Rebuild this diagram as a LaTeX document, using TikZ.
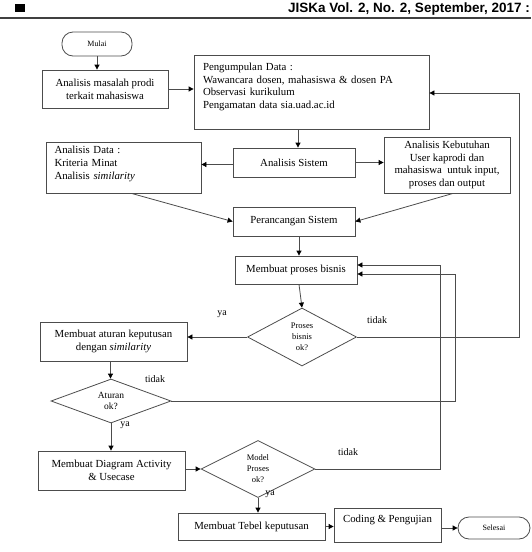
\documentclass[tikz,border=0pt]{standalone}
\usepackage{fontspec}
\setmainfont{Liberation Serif}
\newfontfamily\hdrfont{Liberation Sans}
\usetikzlibrary{arrows.meta,shapes.geometric,calc}
\begin{document}
\begin{tikzpicture}[x=1pt,y=-1pt,
  lc/.style={draw=black!70},
  box/.style={lc,line width=0.8pt,rectangle,inner sep=0pt,align=center,font=\fontsize{10.8}{12.7}\selectfont},
  term/.style={box,rounded corners=11pt,font=\fontsize{8}{10}\selectfont},
  dia/.style={lc,line width=0.8pt,diamond,inner sep=0pt,align=center,font=\fontsize{8.5}{11}\selectfont},
  arr/.style={lc,line width=0.8pt,-{Triangle[length=5pt,width=5pt,color=black]}},
  lbl/.style={font=\fontsize{10}{12}\selectfont,inner sep=0pt}]
\useasboundingbox (0,0) rectangle (531,552);
% header
\fill[black] (15,4) rectangle (25,12);
\node[anchor=east,inner sep=0pt,font=\hdrfont\bfseries\fontsize{13.5}{15}\selectfont] (hdr) at (530,9) {JISKa Vol. 2, No. 2, September, 2017 :};
\draw[black!75,line width=1.3pt] (0,18) -- (531,18);
% nodes
\node[term,minimum width=70,minimum height=24] (mulai) at (97,44) {Mulai};
\node[box,minimum width=126,minimum height=38] (masalah) at (105,89) {Analisis masalah prodi\\terkait mahasiswa};
\node[box,minimum width=235,minimum height=74,text width=217,align=left] (kumpul) at (311.5,92) {Pengumpulan Data :\\Wawancara dosen, mahasiswa \& dosen PA\\Observasi kurikulum\\Pengamatan data sia.uad.ac.id\\\mbox{}};
\node[box,minimum width=122,minimum height=29] (sistem) at (294,162.5) {Analisis Sistem};
\node[box,minimum width=155,minimum height=51,text width=138,align=left] (data) at (123.5,167.5) {Analisis Data :\\Kriteria Minat\\Analisis \textit{similarity}\\[-3pt]\mbox{}};
\node[box,minimum width=126,minimum height=56] (butuh) at (447,165) {Analisis Kebutuhan\\User kaprodi dan\\mahasiswa\ \ untuk input,\\proses dan output};
\node[box,minimum width=122,minimum height=29] (rancang) at (294,221.5) {Perancangan Sistem};
\node[box,minimum width=122,minimum height=28] (bisnis) at (296,270) {Membuat proses bisnis};
\node[dia,minimum width=109,minimum height=58,aspect=1.88] (d1) at (302,337) {Proses\\bisnis\\ok?};
\node[box,minimum width=147,minimum height=39] (aturan) at (113.5,341.5) {Membuat aturan keputusan\\dengan \textit{similarity}};
\node[dia,minimum width=120,minimum height=44,aspect=2.73,font=\fontsize{9.5}{11}\selectfont] (d2) at (111,401) {Aturan\\ok?};
\node[box,minimum width=147,minimum height=39] (diagram) at (111.5,470.5) {Membuat Diagram Activity\\\& Usecase};
\node[dia,minimum width=114,minimum height=57,aspect=2] (d3) at (258,469) {Model\\Proses\\ok?};
\node[box,minimum width=147,minimum height=27] (tebel) at (251.5,526.5) {Membuat Tebel keputusan};
\node[box,minimum width=107,minimum height=34] (coding) at (387.5,525) {Coding \& Pengujian\\\mbox{}};
\node[term,minimum width=72,minimum height=22] (selesai) at (494,528) {Selesai};
% connectors
\draw[arr] (mulai.south) -- (mulai.south |- masalah.north);
\draw[arr] (masalah.east) -- (masalah.east -| kumpul.west);
\draw[arr] ([xshift=4]sistem.north |- kumpul.south) -- ([xshift=4]sistem.north);
\draw[arr] ([yshift=-2]sistem.west) -- ([yshift=-2]sistem.west -| data.east);
\draw[arr] (sistem.east) -- (sistem.east -| butuh.west);
\draw[arr] ([xshift=8]data.south) -- (rancang.west);
\draw[arr] ([xshift=6]butuh.south) -- (rancang.east);
\draw[arr] ([xshift=5]rancang.south) -- ([xshift=5]rancang.south |- bisnis.north);
\draw[arr] ([xshift=3]bisnis.south) -- (d1.north);
\draw[arr] (d1.west) -- (d1.west -| aturan.east);
\draw[arr] (d1.east) -| ([xshift=90,yshift=-1]kumpul.east) -- ([yshift=-1]kumpul.east);
\draw[arr] ([xshift=-3]aturan.south) -- ([xshift=-3]aturan.south |- d2.north);
\draw[arr] (d2.east) -| ([xshift=98,yshift=-4]bisnis.east) -- ([yshift=-4]bisnis.east);
\draw[arr] (d2.south) -- (d2.south |- diagram.north);
\draw[arr] (diagram.east |- d3.west) -- (d3.west);
\draw[arr] (d3.east) -| ([xshift=83,yshift=5]bisnis.east) -- ([yshift=5]bisnis.east);
\draw[arr] (d3.south) -- (d3.south |- tebel.north);
\draw[arr] (tebel.east) -- (tebel.east -| coding.west);
\draw[arr] (coding.east |- selesai.west) -- (selesai.west);
% labels
\node[lbl] (ya1) at (222,314) {ya};
\node[lbl] (tidak1) at (377,320) {tidak};
\node[lbl] (tidak2) at (155,379) {tidak};
\node[lbl] (ya2) at (125,425) {ya};
\node[lbl] (tidak3) at (348,452) {tidak};
\node[lbl] (ya3) at (270,494) {ya};
\end{tikzpicture}
\end{document}
